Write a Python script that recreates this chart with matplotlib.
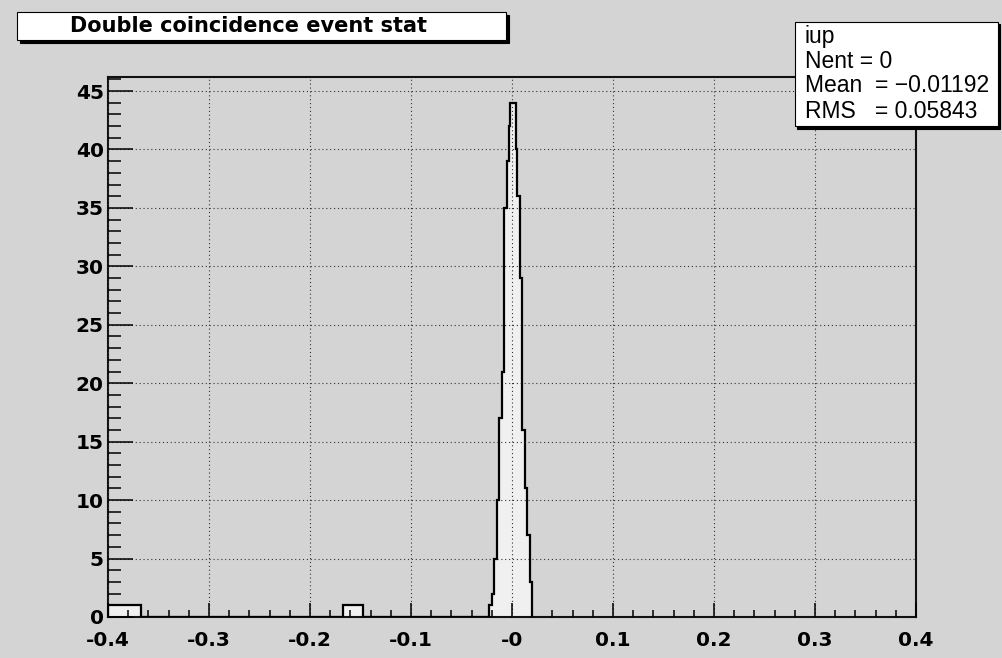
import numpy as np
import matplotlib
matplotlib.use('Agg')
import matplotlib.pyplot as plt
from matplotlib.patches import Rectangle
from matplotlib.ticker import MultipleLocator, FixedLocator, FixedFormatter

# ---------------- data ----------------
bin_edges = [-0.4, -0.3675, -0.1675, -0.1475, -0.0225, -0.02, -0.0175, -0.015,
             -0.0125, -0.01, -0.0075, -0.005, -0.0028, -0.0018, 0.0035, 0.005,
             0.0075, 0.01, 0.0125, 0.015, 0.0175, 0.02]
bin_counts = [1, 0, 1, 0, 1, 2, 5, 10, 17, 21, 35, 39, 42, 44, 40, 36, 29, 16,
              11, 7, 3]
x_ticks = [-0.4, -0.3, -0.2, -0.1, 0.0, 0.1, 0.2, 0.3, 0.4]
x_tick_labels = ['-0.4', '-0.3', '-0.2', '-0.1', '-0', '0.1', '0.2', '0.3', '0.4']
y_ticks = [0, 5, 10, 15, 20, 25, 30, 35, 40, 45]
title = 'Double coincidence event stat'
stats_lines = ['iup', 'Nent = 0', 'Mean  = \u22120.01192', 'RMS   = 0.05843']

# ---------------- layout ----------------
W, H = 1003, 658
BG = '#d4d4d4'
FILL = '#f0f0f0'


def fx(px):
    return px / W


def fy(py):
    return 1 - py / H


fig = plt.figure(figsize=(W / 100, H / 100), dpi=100, facecolor=BG)
ax_l, ax_r, ax_t, ax_b = 108, 916, 77, 617
ax = fig.add_axes([fx(ax_l), fy(ax_b), (ax_r - ax_l) / W, (ax_b - ax_t) / H])
ax.set_facecolor(BG)

ax.stairs(bin_counts, bin_edges, fill=True, facecolor=FILL, edgecolor='none',
          zorder=2)
ax.stairs(bin_counts, bin_edges, fill=False, color='black', linewidth=1.6,
          zorder=3)

ax.set_xlim(-0.4, 0.4)
ax.set_ylim(0, 1.05 * max(bin_counts))

ax.xaxis.set_major_locator(FixedLocator(x_ticks))
ax.xaxis.set_major_formatter(FixedFormatter(x_tick_labels))
ax.xaxis.set_minor_locator(MultipleLocator(0.02))
ax.yaxis.set_major_locator(FixedLocator(y_ticks))
ax.yaxis.set_minor_locator(MultipleLocator(1))

ax.tick_params(axis='x', which='major', direction='in', length=10, width=1.1,
               pad=10, labelsize=14.5)
ax.tick_params(axis='x', which='minor', direction='in', length=5, width=1.1)
ax.tick_params(axis='y', which='major', direction='in', length=18, width=1.1,
               pad=3, labelsize=14.5)
ax.tick_params(axis='y', which='minor', direction='in', length=9, width=1.1)
for lab in ax.get_xticklabels() + ax.get_yticklabels():
    lab.set_fontweight('bold')
    lab.set_family('DejaVu Sans')

ax.grid(True, which='major', color='#333333', linestyle=(0, (1, 2.5)),
        linewidth=0.8)
ax.set_axisbelow(False)
for sp in ax.spines.values():
    sp.set_linewidth(1.5)
    sp.set_color('#111111')


def box(x0, y0, x1, y1, sh=2.5):
    fig.add_artist(Rectangle((fx(x0 + sh), fy(y1 + sh)), (x1 - x0) / W,
                             (y1 - y0) / H, transform=fig.transFigure,
                             facecolor='black', edgecolor='black', lw=0.8,
                             zorder=5))
    fig.add_artist(Rectangle((fx(x0), fy(y1)), (x1 - x0) / W, (y1 - y0) / H,
                             transform=fig.transFigure, facecolor='white',
                             edgecolor='black', lw=0.8, zorder=6))


# title box
box(17, 12, 506, 40)
fig.text(fx(70), fy(26.5), title, fontsize=15, fontweight='bold',
         family='DejaVu Sans', ha='left', va='center', zorder=7)

# stats box
box(795, 22, 998, 126)
for line, yy in zip(stats_lines, [36, 61, 86, 111]):
    fig.text(fx(805), fy(yy), line, fontsize=16.5, family='Liberation Sans',
             ha='left', va='center', zorder=7)

fig.savefig('out.png', dpi=100, facecolor=BG)
